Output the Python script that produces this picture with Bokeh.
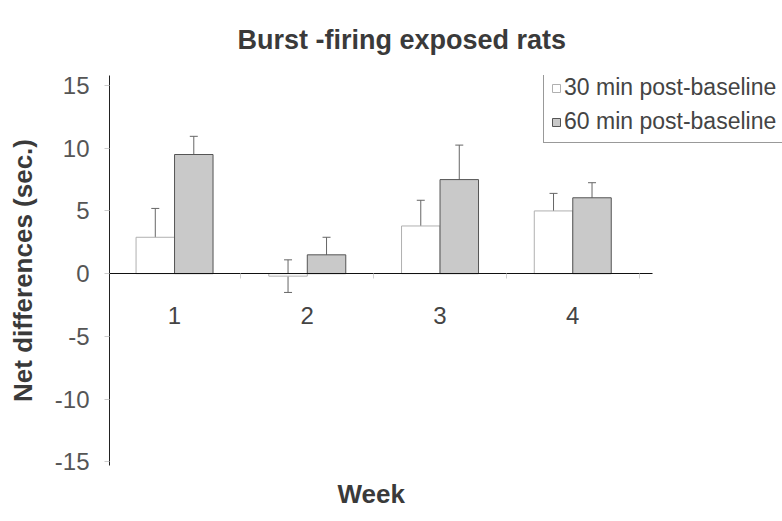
from bokeh.plotting import figure
from bokeh.models import (ColumnDataSource, Whisker, TeeHead, Legend, LegendItem,
                          FixedTicker, Range1d, LinearAxis, Title)
from bokeh.transform import dodge
from bokeh.core.properties import value
from bokeh.embed import file_html
from bokeh.resources import INLINE

weeks = [1, 2, 3, 4]
week_labels = ["1", "2", "3", "4"]
m30 = [2.9, -0.2, 3.8, 5.0]
e30 = [2.3, 1.3, 2.05, 1.4]
m60 = [9.5, 1.5, 7.5, 6.05]
e60 = [1.45, 1.4, 2.75, 1.2]
y_ticks = [-15, -10, -5, 0, 5, 10, 15]
week_bounds = [1.5, 2.5, 3.5, 4.5]

FONT = "Liberation Sans"
X_START, X_AXIS_END, X_END = 0.51, 4.6, 5.58

src = ColumnDataSource(dict(
    week=weeks, label=week_labels, m30=m30, m60=m60,
    up30=[m + e for m, e in zip(m30, e30)], lo30=[m - e for m, e in zip(m30, e30)],
    up60=[m + e for m, e in zip(m60, e60)], lo60=[m - e for m, e in zip(m60, e60)],
))

p = figure(width=782, height=521, x_range=Range1d(X_START, X_END), y_range=Range1d(-15.3, 15.8),
           output_backend="svg", toolbar_location=None, x_axis_location=None,
           min_border_left=109, min_border_right=0, min_border_top=75, min_border_bottom=56)
p.outline_line_color = None
p.grid.visible = False


def text_title(text, offset, size, standoff):
    return Title(text=text, align="left", offset=offset, vertical_align="bottom",
                 standoff=standoff, text_font=FONT, text_font_size=size,
                 text_font_style="bold", text_color="#3a3a3a")


p.add_layout(text_title("Burst -firing exposed rats", 128, "27px", 41), "above")

ya = p.yaxis[0]
ya.ticker = FixedTicker(ticks=y_ticks)
ya.major_label_overrides = {t: str(t) for t in y_ticks}
ya.axis_line_color = "#222222"
ya.major_tick_out = 5
ya.major_tick_in = 0
ya.major_tick_line_color = "#cccccc"
ya.minor_tick_line_color = None
ya.major_label_text_font = FONT
ya.major_label_text_font_size = "24px"
ya.major_label_text_color = "#555555"
ya.major_label_standoff = 15
ya.axis_label = "Net differences (sec.)"
ya.axis_label_text_font = FONT
ya.axis_label_text_font_size = "26px"
ya.axis_label_text_font_style = "bold"
ya.axis_label_text_color = "#3a3a3a"
ya.axis_label_standoff = 14

# zero line with faint boundary ticks, bounded to the data area
zax = LinearAxis(fixed_location=0, bounds=(X_START, X_AXIS_END),
                 ticker=FixedTicker(ticks=[], minor_ticks=week_bounds),
                 axis_line_color="#111111", axis_line_width=1.2,
                 major_tick_out=0, major_tick_in=0,
                 minor_tick_out=5, minor_tick_in=0, minor_tick_line_color="#d0d0d0",
                 major_label_standoff=0)
p.add_layout(zax, "below")
p.add_layout(text_title("Week", 228, "26px", 22), "below")

r30 = p.vbar(x=dodge("week", -0.145), top="m30", bottom=0, width=0.29, source=src,
             fill_color="white", line_color="#b0b0b0", line_width=1)
r60 = p.vbar(x=dodge("week", 0.145), top="m60", bottom=0, width=0.29, source=src,
             fill_color="#c9c9c9", line_color="#555555", line_width=1)

for up, lo, off in (("up30", "lo30", -0.145), ("up60", "lo60", 0.145)):
    w = Whisker(source=src, base=dodge("week", off), upper=up, lower=lo, dimension="height",
                line_color="#666666", line_width=1,
                upper_head=TeeHead(size=8, line_color="#666666", line_width=1),
                lower_head=TeeHead(size=8, line_color="#666666", line_width=1))
    p.add_layout(w)

p.text(x="week", y=0, text="label", source=src, y_offset=42,
       text_align="center", text_baseline="middle", text_font=value(FONT),
       text_font_size="24px", text_color="#444444")

legend = Legend(items=[LegendItem(label="30 min post-baseline", renderers=[r30]),
                       LegendItem(label="60 min post-baseline", renderers=[r60])],
                location=(434, 322), orientation="vertical")
legend.label_text_font = FONT
legend.label_text_font_size = "23px"
legend.label_text_color = "#444444"
legend.glyph_width = 10
legend.glyph_height = 10
legend.label_standoff = 3
legend.label_height = 23
legend.padding = 7
legend.margin = 0
legend.spacing = 7
legend.border_line_color = "#333333"
legend.border_line_width = 1
legend.background_fill_alpha = 1
p.add_layout(legend, "center")

open("out.html", "w").write(file_html(p, INLINE))
